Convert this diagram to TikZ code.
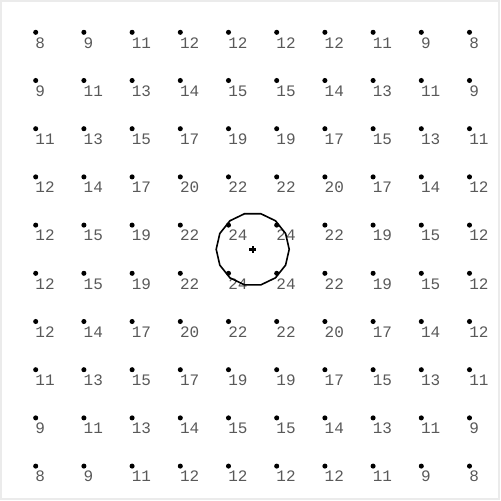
\documentclass[tikz,border=0pt]{standalone}
\usepackage{fontspec}
\setmonofont{Liberation Mono}
\usetikzlibrary{shapes.geometric}
\begin{document}
\begin{tikzpicture}[x=0.75pt,y=-0.75pt,
  gdot/.style={circle,fill=black,inner sep=0pt,minimum size=3.8pt},
  val/.style={font=\ttfamily\fontsize{12pt}{13pt}\selectfont,text=black!65,inner sep=0pt,anchor=base west},
  ring/.style={draw,line width=1.2pt,regular polygon,regular polygon sides=14,minimum size=54.75pt,inner sep=0pt},
  frame/.style={draw=black!8,line width=1.5pt}]
\useasboundingbox (0,0) rectangle (501,501);
\draw[frame] (1,1) rectangle (499,499);
\foreach \row [count=\i from 0] in {{8,9,11,12,12,12,12,11,9,8},{9,11,13,14,15,15,14,13,11,9},{11,13,15,17,19,19,17,15,13,11},{12,14,17,20,22,22,20,17,14,12},{12,15,19,22,24,24,22,19,15,12},{12,15,19,22,24,24,22,19,15,12},{12,14,17,20,22,22,20,17,14,12},{11,13,15,17,19,19,17,15,13,11},{9,11,13,14,15,15,14,13,11,9},{8,9,11,12,12,12,12,11,9,8}}{
  \foreach \v [count=\j from 0] in \row {
    \node[gdot] (d-\i-\j) at ({35.7+48.2*\j},{32.3+48.2*\i}) {};
    \node[val] (t-\i-\j) at ({35.2+48.2*\j},{32.3+48.2*\i+15.8}) {\v};
  }
}
\coordinate (c) at (252.7,249.3);
\node[ring] (r) at (c) {};
\draw[line width=1.8pt] ([xshift=-2.7pt]c) -- ([xshift=2.7pt]c);
\draw[line width=1.8pt] ([yshift=-2.7pt]c) -- ([yshift=2.7pt]c);
\end{tikzpicture}
\end{document}
